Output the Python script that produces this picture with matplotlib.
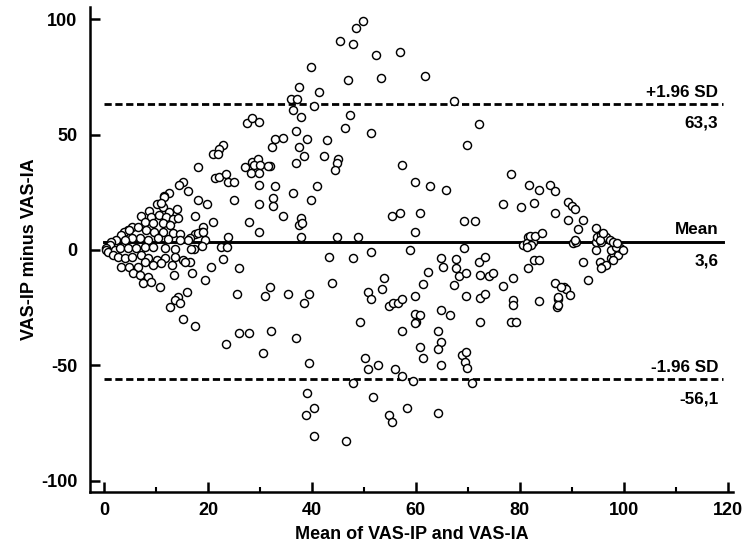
import matplotlib
matplotlib.use("Agg")
import matplotlib.pyplot as plt
from matplotlib import font_manager as fm

# ---- data: (mean of the two ratings, difference VAS-IP minus VAS-IA) ----
mean_vals = [
    # upper centre / top
    49.9, 48.4, 45.4, 47.9, 52.3, 56.9, 39.9, 46.9, 53.3, 61.8, 37.5, 41.4, 36.0, 37.1,
    40.4, 36.4, 37.9, 47.4, 46.4, 51.3, 37.0, 32.9, 34.5, 32.4, 39.0, 42.9, 37.5, 38.4,
    42.4, 45.0, 44.9, 44.4, 37.0, 31.9, 57.4, 59.8, 62.8, 65.8, 32.9, 40.9, 36.4, 32.6,
    32.6, 39.9, 34.4, 37.9, 37.5, 38.0, 55.4, 56.9, 60.8, 59.8, 37.9, 44.9, 48.8, 43.3,
    47.9, 51.3, 58.9, 64.9,
    # left upper
    27.5, 28.5, 29.9, 22.9, 22.1, 21.0, 21.9, 18.0, 27.1, 28.4, 29.7, 28.9, 30.1, 31.5,
    28.3, 29.9, 29.9, 21.3, 22.1, 23.5, 23.9, 25.0, 15.1, 14.4, 16.2, 12.5, 11.5, 18.0,
    19.9, 25.0, 29.9, 17.5, 21.0, 19.1, 18.9, 17.5, 27.9, 29.9, 23.9,
    # left dense cluster
    10.1, 11.4, 12.5, 14.0, 8.6, 7.2, 9.1, 10.6, 12.0, 13.3, 14.2, 7.8, 9.4, 11.3,
    12.6, 5.3, 4.6, 3.9, 3.3, 4.9, 6.5, 8.1, 9.7, 11.3, 13.3, 14.6, 16.5, 18.1,
    19.0, 19.4, 17.3, 16.2, 14.6, 12.3, 10.4, 8.5, 6.9, 5.3, 4.0, 2.4, 1.4, 1.1,
    0.3, 0.3, 0.8, 2.1, 3.0, 4.6, 6.2, 7.8, 9.4, 11.7, 13.6, 16.7, 1.7, 2.7,
    4.0, 5.3, 7.2, 8.5, 10.1, 11.7, 13.6, 15.2, 16.5, 3.3, 4.9, 6.5, 7.8, 9.4,
    11.0, 13.0, 5.6, 6.9, 8.5, 7.5, 9.1, 10.7, 13.5, 16.9, 15.5, 14.2, 13.7, 14.6,
    12.6, 16.0, 15.2, 17.6, 11.5, 10.9,
    # left lower
    20.5, 19.4, 22.9, 22.5, 23.6, 18.9, 26.0, 25.5, 31.0, 31.9, 26.0, 27.9, 32.2, 23.5,
    30.5,
    # centre lower
    65.3, 62.3, 61.3, 59.8, 35.4, 39.4, 38.5, 43.8, 50.8, 51.3, 53.8, 53.4, 54.9, 55.5,
    56.6, 57.4, 59.8, 60.8, 60.1, 59.8, 64.9, 66.5, 36.9, 49.2, 57.4, 64.3, 64.9, 64.3,
    64.9, 60.8, 61.3, 39.5, 50.3, 50.8, 52.8, 56.0, 57.4, 59.4, 47.9, 39.0, 51.8, 38.8,
    40.4, 54.9, 55.4, 58.3, 64.3, 40.4, 46.5,
    # right centre
    78.3, 81.7, 76.8, 80.2, 69.3, 71.3, 69.3, 80.6, 81.6, 81.3, 81.6, 67.8, 67.8, 68.3,
    67.3, 69.7, 72.2, 73.3, 72.3, 74.1, 74.9, 78.7, 76.8, 69.7, 72.3, 73.3, 78.7, 78.7,
    72.3, 78.3, 79.2, 68.8, 69.7, 69.4, 69.9, 70.7,
    # right side
    83.7, 82.7, 83.7, 82.5, 86.7, 88.5, 88.8, 89.7, 87.4, 87.2, 90.3, 90.8, 92.2, 93.2,
    94.7, 95.4, 95.9, 96.5, 97.6, 97.9, 98.9, 99.2, 97.6, 98.5, 94.7, 95.7,
    83.7, 85.8, 86.7, 82.7, 86.7, 89.3, 90.1, 90.6, 89.3, 92.2, 91.2, 94.7, 81.9, 82.9,
    84.2, 82.2, 90.6, 94.9, 95.7, 96.5, 97.3, 97.9, 98.6, 95.4, 99.9, 95.7, 97.9, 88.0,
    87.4, 87.4,
    # upper right
    67.3, 72.2, 69.9, 96.0, 81.4,
]

diff_vals = [
    # upper centre / top
    99.5, 96.5, 90.7, 89.5, 84.6, 85.8, 79.5, 73.8, 74.5, 75.6, 70.6, 68.7, 65.6, 65.6,
    62.5, 60.7, 57.6, 58.7, 52.9, 50.6, 51.8, 48.0, 48.7, 44.8, 48.0, 47.7, 44.8, 40.8,
    40.8, 39.6, 37.6, 34.7, 37.8, 36.6, 36.7, 29.6, 27.9, 25.9, 27.9, 27.9, 24.9, 22.7,
    19.2, 21.7, 14.8, 13.8, 10.8, 11.8, 14.8, 15.9, 15.9, 7.9, 5.8, 5.8, 5.8, -2.9,
    -3.6, -1.0, 0.0, -3.6,
    # left upper
    54.9, 57.1, 55.7, 45.6, 43.7, 41.6, 41.6, 35.9, 36.1, 38.3, 39.3, 36.9, 36.9, 36.6,
    33.3, 33.3, 28.2, 31.1, 31.8, 33.0, 29.6, 29.6, 29.6, 28.2, 25.7, 24.6, 23.2, 21.7,
    20.0, 21.7, 20.0, 14.8, 12.3, 10.1, 7.9, 6.9, 12.3, 7.9, 5.8,
    # left dense cluster
    20.0, 18.8, 16.6, 17.6, 16.9, 14.8, 14.5, 15.2, 14.5, 13.3, 13.7, 12.3, 11.6, 11.6,
    10.9, 10.1, 8.7, 8.0, 6.5, 8.7, 10.1, 8.7, 8.0, 8.0, 7.2, 6.9, 5.1, 7.2,
    8.0, 4.3, 0.3, 4.3, 4.3, 4.6, 5.1, 4.3, 5.1, 5.1, 4.3, 4.3, 3.6, 2.2,
    0.7, 0.0, -0.7, 0.0, 0.7, 0.7, 0.7, 1.2, 1.2, 0.7, 0.3, 0.3, -2.2, -2.9,
    -3.6, -2.9, -2.2, -3.6, -4.3, -3.6, -2.9, -4.3, -5.1, -7.2, -7.2, -7.2, -5.1, -6.5,
    -5.8, -6.5, -10.1, -10.8, -11.6, -14.5, -13.7, -15.9, -10.8, -10.1, -5.1, -20.2, -21.7, -23.1,
    -24.6, -18.1, -30.1, -32.8, 22.8, 20.5,
    # left lower
    -7.2, -13.0, -4.0, 1.2, 1.2, 1.7, -7.9, -19.1, -20.0, -16.2, -36.1, -36.1, -35.0, -40.9,
    -44.8,
    # centre lower
    -7.2, -9.4, -14.9, -20.0, -19.1, -19.1, -22.9, -14.2, -18.1, -21.3, -12.3, -17.1, -24.2, -22.9,
    -22.9, -21.3, -27.8, -28.2, -31.1, -31.8, -26.0, -28.2, -38.0, -31.1, -35.0, -35.0, -39.8, -43.1,
    -49.9, -41.9, -47.0, -48.9, -47.0, -51.8, -50.0, -51.8, -54.7, -56.8, -57.8, -61.9, -63.6, -71.6,
    -68.7, -71.6, -74.5, -68.7, -70.9, -80.7, -82.7,
    # right centre
    32.8, 28.0, 20.0, 18.8, 12.7, 12.7, 1.0, 2.2, 5.8, 2.9, -7.9, -4.0, -7.9, -11.3,
    -15.2, -10.1, -5.1, -2.9, -10.8, -11.3, -9.8, -12.0, -15.6, -19.8, -21.0, -19.1, -21.7, -23.9,
    -31.1, -31.1, -31.1, -45.6, -44.1, -48.5, -51.3, -57.9,
    # right side
    -22.0, -4.3, -4.3, 3.5, -14.2, -15.9, -17.1, -19.5, -21.4, -24.6, 3.0, 3.6, -5.1, -13.0,
    0.0, -5.1, -7.2, -6.5, -3.6, -1.4, -2.2, 0.7, 0.0, 1.4, 3.6, 3.6,
    26.0, 28.2, 25.7, 20.2, 16.2, 21.0, 19.1, 17.7, 13.0, 13.0, 9.0, 9.7, 6.1, 6.1,
    7.2, 2.2, 4.3, 5.8, 6.5, 5.8, 4.3, 3.6, 2.9, 4.3, 0.0, -7.9, -4.3, -16.2,
    -20.2, -23.9,
    # upper right
    64.8, 54.7, 45.6, 7.2, 1.4,
]

mean_diff = 3.6
upper_loa = 63.3
lower_loa = -56.1
line_titles = ["+1.96 SD", "Mean", "-1.96 SD"]
line_values_text = ["63,3", "3,6", "-56,1"]
x_ticks = [0, 20, 40, 60, 80, 100, 120]
x_minor = [10, 30, 50, 70, 90, 110]
y_ticks = [-100, -50, 0, 50, 100]
x_label = "Mean of VAS-IP and VAS-IA"
y_label = "VAS-IP minus VAS-IA"


def has_font(name):
    try:
        fm.findfont(fm.FontProperties(family=name), fallback_to_default=False)
        return True
    except Exception:
        return False


if has_font("Liberation Sans Narrow"):
    fam = ["Liberation Sans Narrow", "DejaVu Sans"]
    fs = 15.5
else:
    fam = ["Liberation Sans", "DejaVu Sans"]
    fs = 13

plt.rcParams["font.family"] = fam
plt.rcParams["font.weight"] = "bold"
plt.rcParams["axes.unicode_minus"] = False

fig = plt.figure(figsize=(7.43, 5.47), dpi=100)
ax = fig.add_axes([0.1211, 0.1005, 0.8654, 0.8867])

ax.plot(mean_vals, diff_vals, linestyle="none", marker="o", markersize=5.8,
        markerfacecolor="white", markeredgecolor="black", markeredgewidth=1.05, zorder=3)

line_x = [0, 119]
ax.plot(line_x, [mean_diff, mean_diff], color="black", lw=2.1, zorder=2)
for v in (upper_loa, lower_loa):
    ax.plot(line_x, [v, v], color="black", lw=2.0, dashes=(2.6, 1.3), zorder=2)

lab_fs = fs * 0.95
for val, title, txt in zip([upper_loa, mean_diff, lower_loa], line_titles, line_values_text):
    ax.annotate(title, xy=(118.2, val), xytext=(0, 8.5), textcoords="offset points",
                ha="right", va="center", fontsize=lab_fs, fontweight="bold")
    ax.annotate(txt, xy=(118.2, val), xytext=(0, -14), textcoords="offset points",
                ha="right", va="center", fontsize=lab_fs, fontweight="bold")

ax.set_xlim(-2.7, 121)
ax.set_ylim(-105, 105.4)
ax.set_xticks(x_ticks)
ax.set_xticks(x_minor, minor=True)
ax.set_yticks(y_ticks)
ax.tick_params(axis="both", which="major", direction="in", length=7.5, width=1.8,
               labelsize=fs, pad=7)
ax.tick_params(axis="x", which="minor", direction="in", length=3.8, width=1.5)
ax.tick_params(axis="y", which="major", pad=9)
for lab in ax.get_xticklabels() + ax.get_yticklabels():
    lab.set_fontweight("bold")

for s in ("top", "right"):
    ax.spines[s].set_visible(False)
for s in ("left", "bottom"):
    ax.spines[s].set_linewidth(1.8)

ax.set_xlabel(x_label, fontsize=fs, fontweight="bold", labelpad=5)
ax.set_ylabel(y_label, fontsize=fs, fontweight="bold", labelpad=2)

fig.savefig("out.png", dpi=100)
